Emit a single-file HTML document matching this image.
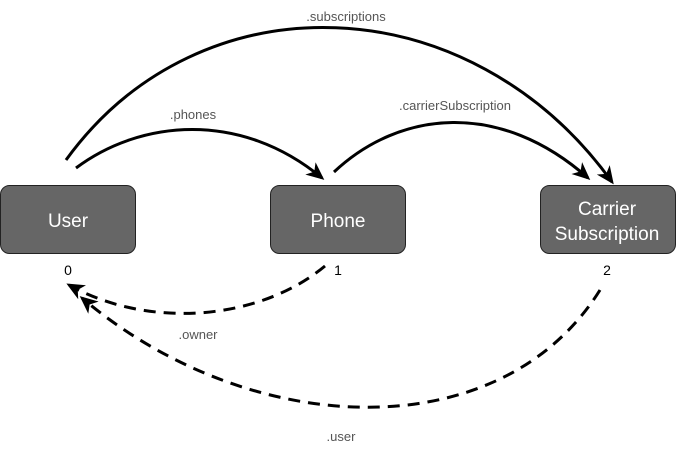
<!DOCTYPE html>
<html><head><style>
body{margin:0;width:676px;height:450px;background:#fff;overflow:hidden}
svg{display:block}
</style></head><body>
<svg width="676" height="450" xmlns="http://www.w3.org/2000/svg" font-family="Liberation Sans, Arial, sans-serif">
<defs>
<marker id="a" markerWidth="18" markerHeight="16" refX="15" refY="8" orient="auto" markerUnits="userSpaceOnUse" viewBox="0 0 18 16">
<path d="M0,0 L18,8 L0,16 L5,8 z" fill="#000"/>
</marker>
</defs>
<g fill="#666" stroke="#222" stroke-width="1">
<rect x="0.5" y="185.5" width="135" height="68" rx="9"/>
<rect x="270.5" y="185.5" width="135" height="68" rx="9"/>
<rect x="540.5" y="185.5" width="135" height="68" rx="9"/>
</g>
<g fill="#fff" font-size="19" text-anchor="middle">
<text x="68" y="227">User</text>
<text x="338" y="227">Phone</text>
<text x="607" y="215">Carrier</text>
<text x="607" y="240">Subscription</text>
</g>
<g font-size="14" text-anchor="middle" fill="#000">
<text x="68" y="275">0</text>
<text x="338" y="275">1</text>
<text x="607" y="275">2</text>
</g>
<g fill="none" stroke="#000" stroke-width="3" marker-end="url(#a)">
<path d="M66,160 C200,-25 470,-15 612,182"/>
<path d="M76,168 C140,120 240,110 322,178"/>
<path d="M334,172 C400,110 500,100 588,178"/>
</g>
<g fill="none" stroke="#000" stroke-width="3" stroke-dasharray="12,8" marker-end="url(#a)">
<path d="M325,266 C260,320 150,330 69,285"/>
<path d="M600,290 C500,450 250,440 82,298"/>
</g>
<g font-size="13" fill="#555" text-anchor="middle">
<text x="346" y="21">.subscriptions</text>
<text x="193" y="119">.phones</text>
<text x="455" y="110">.carrierSubscription</text>
<text x="198" y="339">.owner</text>
<text x="341" y="441">.user</text>
</g>
</svg>
</body></html>
